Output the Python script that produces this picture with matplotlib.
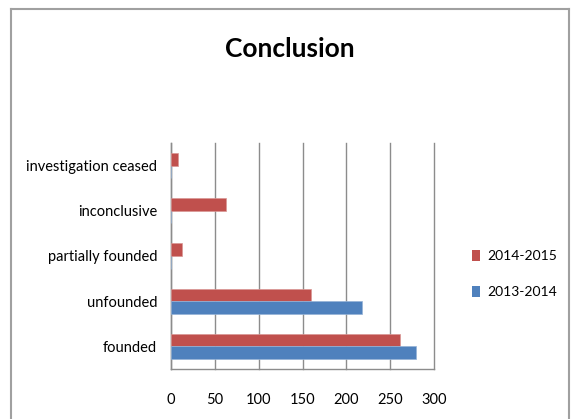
import matplotlib
matplotlib.use("Agg")
import matplotlib.pyplot as plt
from matplotlib.patches import Patch
from matplotlib.lines import Line2D
import numpy as np

plt.rcParams['font.family'] = ['Lato', 'DejaVu Sans']

# outcome categories, bottom to top
categories = ["founded", "unfounded", "partially founded", "inconclusive",
              "investigation ceased"]
series_names = ["2014-2015", "2013-2014"]
vals_2014_2015 = [261, 160, 12, 63, 8]
vals_2013_2014 = [280, 218, 0, 0, 0]
xticks = [0, 50, 100, 150, 200, 250, 300]

red = "#C0504D"
blue = "#4F81BD"
grid_col = "#8C8C8C"
frame_col = "#A0A0A0"

W, H = 571, 419
fig = plt.figure(figsize=(W / 100, H / 100), dpi=100)

# outer chart frame (open at the bottom)
fig.add_artist(Line2D([11 / W, 11 / W], [0, 1 - 9 / H], color=frame_col, lw=1.5))
fig.add_artist(Line2D([11 / W, 569 / W], [1 - 9 / H, 1 - 9 / H], color=frame_col, lw=1.5))
fig.add_artist(Line2D([569 / W, 569 / W], [0, 1 - 9 / H], color=frame_col, lw=1.5))

ax = fig.add_axes([171 / W, 1 - 369 / H, (434 - 171) / W, (369 - 143) / H])

y = np.arange(len(categories))
h = 0.277
ax.barh(y + h / 2, vals_2014_2015, height=h, color=red, edgecolor="#D99694",
        linewidth=0.5, label=series_names[0], zorder=3)
ax.barh(y - h / 2, vals_2013_2014, height=h, color=blue, edgecolor="#95B3D7",
        linewidth=0.5, label=series_names[1], zorder=3)

ax.set_xlim(0, 300)
ax.set_ylim(-0.5, len(categories) - 0.5)
ax.set_xticks(xticks)
ax.set_yticks(y)
ax.set_yticklabels(categories)
ax.tick_params(axis="x", length=0, pad=17.5, labelsize=10.5)
ax.tick_params(axis="y", length=0, pad=10, labelsize=10.5)
ax.grid(axis="x", color=grid_col, lw=1, zorder=0)
for gl in ax.get_xgridlines():
    gl.set_clip_on(False)
for s in ["top", "right"]:
    ax.spines[s].set_visible(False)
for s in ["left", "bottom"]:
    ax.spines[s].set_color(grid_col)
    ax.spines[s].set_linewidth(1)

fig.text(290 / W, 1 - 49 / H, "Conclusion", ha="center", va="center",
         fontsize=19, fontweight="bold")

handles = [Patch(facecolor=red), Patch(facecolor=blue)]
fig.legend(handles, series_names, loc="center left",
           bbox_to_anchor=(472 / W, 1 - 274 / H), frameon=False,
           borderpad=0, borderaxespad=0,
           fontsize=10, handlelength=0.6, handleheight=0.9,
           handletextpad=0.5, labelspacing=1.7)

fig.savefig("out.png", dpi=100)
